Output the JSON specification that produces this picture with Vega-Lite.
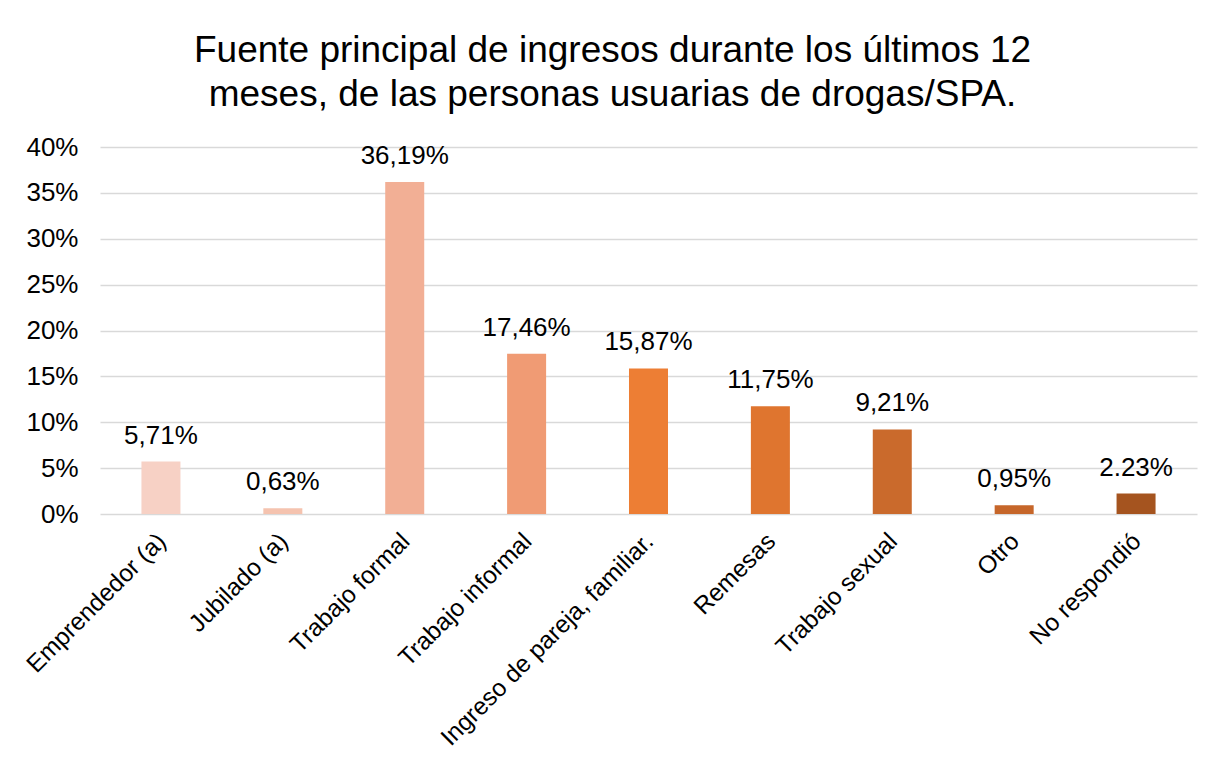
{
  "$schema": "https://vega.github.io/schema/vega-lite/v6.json",
  "autosize": {"type": "none"},
  "width": 1097,
  "height": 367,
  "padding": {"left": 100, "top": 147, "right": 27, "bottom": 245},
  "background": "white",
  "title": {
    "text": ["Fuente principal de ingresos durante los últimos 12", "meses, de las personas usuarias de drogas/SPA."],
    "font": "Liberation Sans",
    "fontSize": 37,
    "fontWeight": "normal",
    "color": "#000000",
    "anchor": "middle",
    "dx": -36,
    "offset": 20,
    "lineHeight": 44
  },
  "data": {
    "values": [
      {"cat": "Emprendedor (a)", "v": 5.71, "lab": "5,71%", "col": "#F7D1C5"},
      {"cat": "Jubilado (a)", "v": 0.63, "lab": "0,63%", "col": "#F5C3AF"},
      {"cat": "Trabajo formal", "v": 36.19, "lab": "36,19%", "col": "#F2AF95"},
      {"cat": "Trabajo informal", "v": 17.46, "lab": "17,46%", "col": "#F09B74"},
      {"cat": "Ingreso de pareja, familiar.", "v": 15.87, "lab": "15,87%", "col": "#ED7E34"},
      {"cat": "Remesas", "v": 11.75, "lab": "11,75%", "col": "#DF752F"},
      {"cat": "Trabajo sexual", "v": 9.21, "lab": "9,21%", "col": "#CA6A2C"},
      {"cat": "Otro", "v": 0.95, "lab": "0,95%", "col": "#C6662A"},
      {"cat": "No respondió", "v": 2.23, "lab": "2.23%", "col": "#A5541F"}
    ]
  },
  "encoding": {
    "x": {
      "field": "cat",
      "type": "nominal",
      "sort": null,
      "scale": {"paddingInner": 0.68, "paddingOuter": 0.34},
      "axis": {
        "title": null,
        "labelAngle": -45,
        "labelFont": "Liberation Sans",
        "labelFontSize": 24.5,
        "labelColor": "#000000",
        "labelPadding": 15,
        "labelOffset": -7,
        "ticks": false,
        "domain": false,
        "labelLimit": 400
      }
    },
    "y": {
      "field": "v",
      "type": "quantitative",
      "scale": {"domain": [0, 40]},
      "axis": {
        "title": null,
        "values": [0, 5, 10, 15, 20, 25, 30, 35, 40],
        "labelExpr": "datum.value + '%'",
        "labelFont": "Liberation Sans",
        "labelFontSize": 26,
        "labelColor": "#000000",
        "labelPadding": 22,
        "ticks": false,
        "domain": false,
        "gridColor": "#D9D9D9",
        "gridWidth": 1.5
      }
    }
  },
  "layer": [
    {
      "mark": {"type": "bar"},
      "encoding": {"color": {"field": "col", "type": "nominal", "scale": null}}
    },
    {
      "mark": {"type": "text", "baseline": "alphabetic", "dy": -18, "font": "Liberation Sans", "fontSize": 26, "color": "#000000"},
      "encoding": {"text": {"field": "lab"}}
    }
  ],
  "config": {"view": {"stroke": null}}
}
